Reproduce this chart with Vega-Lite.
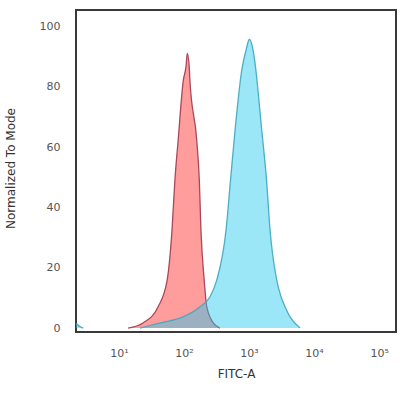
{
  "$schema": "https://vega.github.io/schema/vega-lite/v6.json",
  "width": 320,
  "height": 322,
  "autosize": "none",
  "padding": {"left": 76, "top": 10, "right": 4, "bottom": 63},
  "background": "white",
  "config": {
    "font": "DejaVu Sans",
    "view": {"stroke": "#3a3a3a", "strokeWidth": 2},
    "axis": {"domain": false, "ticks": false, "grid": false, "labelColor": "#555", "titleColor": "#333", "labelFontSize": 11, "titleFontSize": 12, "titleFontWeight": "normal"}
  },
  "datasets": {
    "red": [
      {"x": 13.8, "y": 0}, {"x": 23.4, "y": 1.7}, {"x": 39.8, "y": 7.0}, {"x": 55.0, "y": 15.9},
      {"x": 65.3, "y": 32.5}, {"x": 72.4, "y": 49.1}, {"x": 81.3, "y": 62.4}, {"x": 97.7, "y": 82.3},
      {"x": 107.2, "y": 86.7}, {"x": 112.2, "y": 91.1}, {"x": 120.2, "y": 86.7}, {"x": 123.0, "y": 82.3},
      {"x": 156.7, "y": 62.4}, {"x": 171.8, "y": 49.1}, {"x": 182.0, "y": 32.5}, {"x": 204.2, "y": 15.9},
      {"x": 223.9, "y": 7.0}, {"x": 281.8, "y": 1.7}, {"x": 354.8, "y": 0}
    ],
    "blue": [
      {"seg": "a", "x": 2.18, "y": 1.5}, {"seg": "a", "x": 2.51, "y": 0.5}, {"seg": "a", "x": 2.82, "y": 0},
      {"seg": "b", "x": 21.0, "y": 0}, {"seg": "b", "x": 42.8, "y": 1.7}, {"seg": "b", "x": 96.6, "y": 3.7},
      {"seg": "b", "x": 176.2, "y": 7.1}, {"seg": "b", "x": 251, "y": 10.4}, {"seg": "b", "x": 318.4, "y": 15.9},
      {"seg": "b", "x": 442.6, "y": 32.5}, {"seg": "b", "x": 518.8, "y": 49.1}, {"seg": "b", "x": 609.5, "y": 65.7},
      {"seg": "b", "x": 772.7, "y": 85.6}, {"seg": "b", "x": 899.5, "y": 92.2}, {"seg": "b", "x": 1011.6, "y": 95.8},
      {"seg": "b", "x": 1153, "y": 92.2}, {"seg": "b", "x": 1236, "y": 87.9}, {"seg": "b", "x": 1567, "y": 65.7},
      {"seg": "b", "x": 1858, "y": 49.1}, {"seg": "b", "x": 2104, "y": 32.5}, {"seg": "b", "x": 2667, "y": 15.9},
      {"seg": "b", "x": 3105, "y": 10.4}, {"seg": "b", "x": 3580, "y": 7.1}, {"seg": "b", "x": 4275, "y": 3.7},
      {"seg": "b", "x": 6095, "y": 0}
    ]
  },
  "encoding": {
    "x": {
      "field": "x", "type": "quantitative",
      "scale": {"type": "log", "domain": [2.18, 182000], "nice": false},
      "axis": {
        "title": "FITC-A", "values": [10, 100, 1000, 10000, 100000],
        "labelExpr": "'10' + ['⁰','¹','²','³','⁴','⁵'][round(log(datum.value)/LN10)]",
        "labelPadding": 15, "titlePadding": 10, "labelFontSize": 11
      }
    },
    "y": {
      "field": "y", "type": "quantitative",
      "scale": {"domain": [-1.3, 105.5], "nice": false, "zero": false},
      "axis": {"title": "Normalized To Mode", "values": [0, 20, 40, 60, 80, 100], "labelPadding": 16, "titleX": -59, "titleY": 158}
    }
  },
  "layer": [
    {"data": {"name": "red"}, "mark": {"type": "area", "color": "#ff9d9d", "opacity": 1, "interpolate": "monotone"}},
    {"data": {"name": "red"}, "mark": {"type": "line", "color": "#a8485a", "strokeWidth": 1.3, "interpolate": "monotone"}},
    {"data": {"name": "blue"}, "mark": {"type": "area", "color": "#22c8ee", "opacity": 0.45, "interpolate": "monotone"}, "encoding": {"detail": {"field": "seg"}}},
    {"data": {"name": "blue"}, "mark": {"type": "line", "color": "#3fa6be", "strokeWidth": 1.3, "opacity": 0.9, "interpolate": "monotone"}, "encoding": {"detail": {"field": "seg"}}}
  ]
}
